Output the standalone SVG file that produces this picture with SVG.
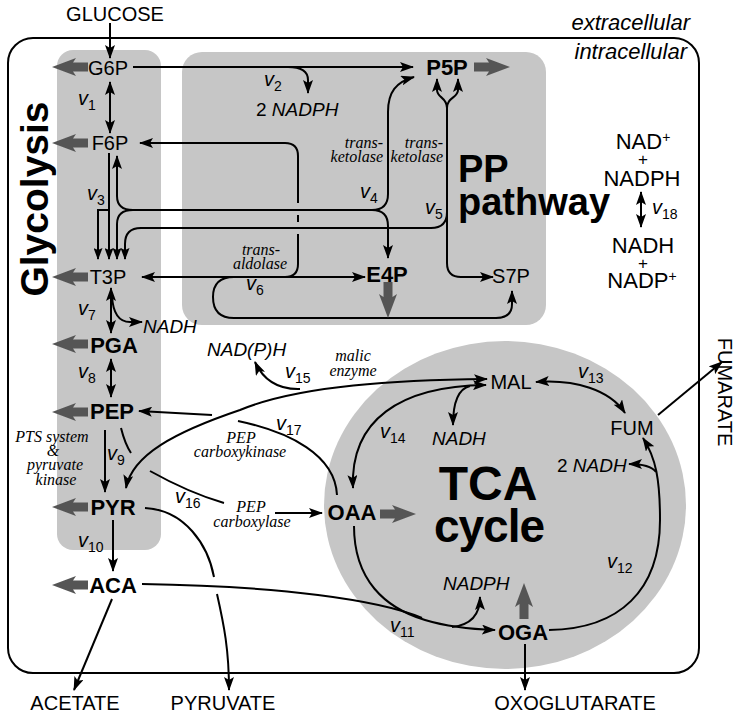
<svg xmlns="http://www.w3.org/2000/svg" xmlns:xlink="http://www.w3.org/1999/xlink" width="747" height="717" viewBox="0 0 747 717">
<defs>
<style>
.t{font-family:"Liberation Sans",Arial,sans-serif;font-size:20px;fill:#000}
.b{font-family:"Liberation Sans",Arial,sans-serif;font-size:22px;font-weight:bold;fill:#000}
.r{font-family:"Liberation Sans",Arial,sans-serif;font-size:22px;fill:#000}
.i{font-family:"Liberation Sans",Arial,sans-serif;font-size:19px;font-style:italic;fill:#000}
.s{font-family:"Liberation Serif","Times New Roman",serif;font-size:16px;font-style:italic;fill:#000}
.v{font-family:"Liberation Sans",Arial,sans-serif;font-size:20px;font-style:italic;fill:#000}
.sub{font-size:14px;font-style:normal}
.big{font-family:"Liberation Sans",Arial,sans-serif;font-weight:bold;fill:#000}
.m{text-anchor:middle}
.e{text-anchor:end}
.area{fill:#c6c6c6}
.fat{fill:#555}
</style>
<marker id="ah" viewBox="0 0 14 10" refX="13" refY="5" markerWidth="14" markerHeight="10" markerUnits="userSpaceOnUse" orient="auto-start-reverse"><path d="M0,0 L14,5 L0,10 L3,5 z" fill="#000"/></marker>
<marker id="ahs" viewBox="0 0 12 9" refX="11" refY="4.5" markerWidth="12" markerHeight="9" markerUnits="userSpaceOnUse" orient="auto-start-reverse"><path d="M0,0 L12,4.5 L0,9 L2,4.5 z" fill="#000"/></marker>
<path id="fatarrow" class="fat" d="M0,0 L-24,-9 L-21,-4.5 L-36,-4.5 L-36,4.5 L-21,4.5 L-24,9 Z"/>
</defs>
<rect width="747" height="717" fill="#fff"/>

<g id="compartments">
<rect x="8" y="38" width="691" height="635" rx="25" fill="none" stroke="#000" stroke-width="2"/>
<text class="i e" x="690" y="30" style="font-size:22px">extracellular</text>
<text class="i e" x="687" y="59" style="font-size:22px">intracellular</text>
</g>

<g id="glycolysis-area">
<rect class="area" x="57" y="50" width="104" height="500" rx="16"/>
<text class="big m" transform="translate(48,199) rotate(-90)" style="font-size:39px">Glycolysis</text>
</g>
<g id="pp-area">
<rect class="area" x="182" y="52" width="364" height="273" rx="20"/>
<text class="big" x="458" y="182" style="font-size:38px">PP</text>
<text class="big" x="458" y="215" style="font-size:38px">pathway</text>
</g>
<g id="tca-area">
<ellipse class="area" cx="505" cy="505" rx="181" ry="164"/>
<text class="big m" x="488" y="500" style="font-size:48px">TCA</text>
<text class="big m" x="489" y="542" style="font-size:46px;letter-spacing:-1px">cycle</text>
</g>

<g id="connectors" fill="none" stroke="#000" stroke-width="2">
<path d="M110,23 V58" marker-end="url(#ah)"/>
<path d="M133,67 H413" marker-end="url(#ah)"/>
<path d="M288,67 C302,67 308,72 308,80 V93" marker-end="url(#ah)"/>
<path d="M110,82 V133" marker-start="url(#ah)" marker-end="url(#ah)"/>
<path d="M140,143 H285 Q298,143 298,156 V203" marker-start="url(#ah)"/>
<path d="M298,215 V222"/>
<path d="M298,234 V264 Q298,277 285,277"/>
<path d="M142,277 H365" marker-start="url(#ah)" marker-end="url(#ah)"/>
<path d="M234,277 Q213,277 213,297 Q213,318 234,318 H496 Q512,318 512,304 V291" marker-end="url(#ah)"/>
<path d="M109,153 V259" marker-end="url(#ahs)"/>
<path d="M109,210 H98 V259" marker-end="url(#ahs)"/>
<path d="M133,210 Q117,210 117,196 V156" marker-end="url(#ah)"/>
<path d="M133,210 Q117,210 117,224 V259" marker-end="url(#ahs)"/>
<path d="M133,210 H372"/>
<path d="M372,210 Q388,210 388,194 V112 C388,92 396,82 414,77" marker-end="url(#ah)"/>
<path d="M372,210 Q388,210 388,226 V258" marker-end="url(#ah)"/>
<path d="M447,108 V263 Q447,277 461,277 H493" marker-end="url(#ah)"/>
<path d="M447,108 C447,97 437,98 437,90 V79" marker-end="url(#ah)"/>
<path d="M447,108 C447,97 458,98 458,90 V79" marker-end="url(#ah)"/>
<path d="M447,212 Q447,228 431,228 H141 Q125,228 125,244 V259" marker-end="url(#ahs)"/>
<path d="M111,288 V333" marker-start="url(#ah)" marker-end="url(#ah)"/>
<path d="M112,296 C113,314 120,322 130,322 H142" marker-end="url(#ah)"/>
<path d="M111,359 V397" marker-start="url(#ah)" marker-end="url(#ah)"/>
<path d="M105,430 V492" marker-end="url(#ah)"/>
<path d="M113,520 V571" marker-end="url(#ah)"/>
<path d="M112,599 L74,690" marker-end="url(#ah)"/>
<path d="M145,508 C185,510 208,545 214,577"/>
<path d="M217,594 C224,625 229,650 229,690" marker-end="url(#ah)"/>
<path d="M142,584 C280,586 380,600 422,618"/>
<path d="M354,526 C354,580 385,608 425,620 C445,626 465,629 495,630" marker-end="url(#ah)"/>
<path d="M452,627 Q480,624 480,597" marker-end="url(#ah)"/>
<path d="M525,644 V690" marker-end="url(#ah)"/>
<path d="M549,630 C620,629 660,590 660,520 C660,480 656,458 643,438" marker-end="url(#ah)"/>
<path d="M656,472 Q650,464 629,464" marker-end="url(#ah)"/>
<path d="M658,415 L722,362" marker-end="url(#ah)"/>
<path d="M536,382 C575,379 610,390 625,413" marker-start="url(#ah)" marker-end="url(#ah)"/>
<path d="M353,488 C350,420 400,386 486,385" marker-start="url(#ah)" marker-end="url(#ah)"/>
<path d="M470,386 Q453,390 453,425" marker-end="url(#ah)"/>
<path d="M487,379 C400,380 300,385 240,410 C175,432 132,455 126,488" marker-start="url(#ah)" marker-end="url(#ah)"/>
<path d="M300,389 Q268,390 255,362" marker-end="url(#ah)"/>
<path d="M121,428 C124,440 127,447 131,453"/>
<path d="M150,471 C175,485 200,496 224,503"/>
<path d="M275,513 H322" marker-end="url(#ah)"/>
<path d="M238,421 C290,432 335,455 337,495"/>
<path d="M212,415 L139,411" marker-end="url(#ah)"/>
<path d="M641,192 V227" marker-start="url(#ah)" marker-end="url(#ah)"/>
</g>

<g id="GLUCOSE"><text class="t m" x="115" y="21">GLUCOSE</text></g>
<g id="G6P"><use xlink:href="#fatarrow" transform="translate(52,67) rotate(180)"/><text class="t m" x="108" y="75">G6P</text></g>
<g id="F6P"><use xlink:href="#fatarrow" transform="translate(52,143) rotate(180)"/><text class="t m" x="110" y="150">F6P</text></g>
<g id="T3P"><use xlink:href="#fatarrow" transform="translate(52,277) rotate(180)"/><text class="t m" x="108" y="284">T3P</text></g>
<g id="PGA"><use xlink:href="#fatarrow" transform="translate(52,344) rotate(180)"/><text class="b m" x="114" y="353">PGA</text></g>
<g id="PEP"><use xlink:href="#fatarrow" transform="translate(52,412) rotate(180)"/><text class="b m" x="112" y="419">PEP</text></g>
<g id="PYR"><use xlink:href="#fatarrow" transform="translate(52,507) rotate(180)"/><text class="b m" x="113" y="515">PYR</text></g>
<g id="ACA"><use xlink:href="#fatarrow" transform="translate(52,585) rotate(180)"/><text class="b m" x="113" y="593">ACA</text></g>
<g id="P5P"><use xlink:href="#fatarrow" transform="translate(510,67)"/><text class="b m" x="447" y="75">P5P</text></g>
<g id="E4P"><use xlink:href="#fatarrow" transform="translate(388,318) rotate(90)"/><text class="b m" x="387" y="282">E4P</text></g>
<g id="S7P"><text class="t m" x="511" y="283">S7P</text></g>
<g id="OAA"><use xlink:href="#fatarrow" transform="translate(416,514)"/><text class="b m" x="352" y="520">OAA</text></g>
<g id="OGA"><use xlink:href="#fatarrow" transform="translate(524,583) rotate(-90)"/><text class="b m" x="523" y="640">OGA</text></g>
<g id="MAL"><text class="t m" x="511" y="389">MAL</text></g>
<g id="FUM"><text class="t m" x="632" y="435">FUM</text></g>
<g id="ACETATE"><text class="t m" x="75" y="710">ACETATE</text></g>
<g id="PYRUVATE"><text class="t m" x="223" y="710">PYRUVATE</text></g>
<g id="OXOGLUTARATE"><text class="t m" x="575" y="710">OXOGLUTARATE</text></g>
<g id="FUMARATE"><text class="t m" transform="translate(718,392) rotate(90)">FUMARATE</text></g>
<g id="cofactors-v18">
<text class="r m" x="643" y="149">NAD<tspan dy="-7" style="font-size:14px">+</tspan></text>
<text class="r m" x="643" y="165" style="font-size:17px">+</text>
<text class="r m" x="642" y="186">NADPH</text>
<text class="r m" x="643" y="253">NADH</text>
<text class="r m" x="643" y="269" style="font-size:17px">+</text>
<text class="r m" x="642" y="288">NADP<tspan dy="-7" style="font-size:14px">+</tspan></text>
</g>

<g id="cofactors">
<text class="i" x="256" y="116"><tspan style="font-style:normal">2 </tspan>NADPH</text>
<text class="i" x="143" y="333">NADH</text>
<text class="i" x="207" y="356">NAD(P)H</text>
<text class="i" x="432" y="445">NADH</text>
<text class="i" x="557" y="472"><tspan style="font-style:normal">2 </tspan>NADH</text>
<text class="i" x="443" y="590">NADPH</text>
</g>

<g id="enzymes">
<text class="s e" x="383" y="148">trans-</text>
<text class="s e" x="383" y="162">ketolase</text>
<text class="s e" x="443" y="148">trans-</text>
<text class="s e" x="443" y="162">ketolase</text>
<text class="s m" x="261" y="255">trans-</text>
<text class="s m" x="260" y="269">aldolase</text>
<text class="s m" x="353" y="361">malic</text>
<text class="s m" x="353" y="376">enzyme</text>
<text class="s m" x="241" y="443">PEP</text>
<text class="s m" x="240" y="457">carboxykinase</text>
<text class="s m" x="251" y="512">PEP</text>
<text class="s m" x="252" y="527">carboxylase</text>
<text class="s m" x="52" y="442">PTS system</text>
<text class="s m" x="53" y="456">&amp;</text>
<text class="s m" x="55" y="470">pyruvate</text>
<text class="s m" x="56" y="485">kinase</text>
</g>

<g id="flux-labels">
<text class="v" x="78" y="105">v<tspan class="sub" dy="5">1</tspan></text>
<text class="v" x="264" y="86">v<tspan class="sub" dy="5">2</tspan></text>
<text class="v" x="87" y="200">v<tspan class="sub" dy="5">3</tspan></text>
<text class="v" x="360" y="198">v<tspan class="sub" dy="5">4</tspan></text>
<text class="v" x="425" y="214">v<tspan class="sub" dy="5">5</tspan></text>
<text class="v" x="246" y="290">v<tspan class="sub" dy="5">6</tspan></text>
<text class="v" x="78" y="315">v<tspan class="sub" dy="5">7</tspan></text>
<text class="v" x="78" y="378">v<tspan class="sub" dy="5">8</tspan></text>
<text class="v" x="107" y="460">v<tspan class="sub" dy="5">9</tspan></text>
<text class="v" x="78" y="547">v<tspan class="sub" dy="5">10</tspan></text>
<text class="v" x="390" y="632">v<tspan class="sub" dy="5">11</tspan></text>
<text class="v" x="607" y="568">v<tspan class="sub" dy="5">12</tspan></text>
<text class="v" x="578" y="378">v<tspan class="sub" dy="5">13</tspan></text>
<text class="v" x="380" y="438">v<tspan class="sub" dy="5">14</tspan></text>
<text class="v" x="285" y="378">v<tspan class="sub" dy="5">15</tspan></text>
<text class="v" x="175" y="503">v<tspan class="sub" dy="5">16</tspan></text>
<text class="v" x="276" y="430">v<tspan class="sub" dy="5">17</tspan></text>
<text class="v" x="652" y="214">v<tspan class="sub" dy="5">18</tspan></text>
</g>
</svg>
